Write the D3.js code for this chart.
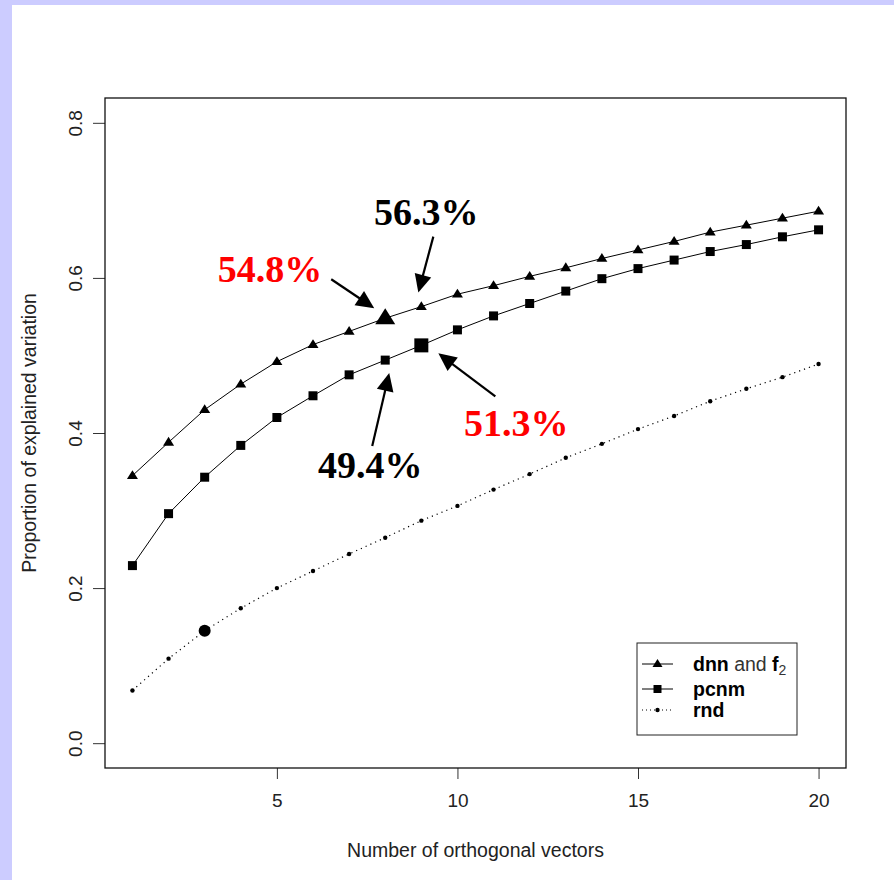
<!DOCTYPE html>
<html><head><meta charset="utf-8">
<script src="https://cdn.jsdelivr.net/npm/d3@7"></script>
<style>html,body{margin:0;padding:0;background:#ccccff;}svg{display:block;}</style>
</head><body>
<script>
// ---- data ----
const nVectors = [1,2,3,4,5,6,7,8,9,10,11,12,13,14,15,16,17,18,19,20];
const dnn  = [0.345,0.388,0.430,0.463,0.492,0.514,0.531,0.548,0.563,0.579,0.590,0.602,0.613,0.625,0.636,0.647,0.659,0.668,0.677,0.686];
const pcnm = [0.229,0.296,0.343,0.384,0.420,0.448,0.475,0.494,0.513,0.533,0.551,0.567,0.583,0.599,0.612,0.623,0.634,0.643,0.653,0.662];
const rnd  = [0.068,0.109,0.145,0.174,0.200,0.222,0.244,0.265,0.287,0.306,0.327,0.347,0.368,0.386,0.405,0.422,0.441,0.457,0.472,0.489];
const xTicks = [5,10,15,20];
const yTicks = [0.0,0.2,0.4,0.6,0.8];
const xTitle = "Number of orthogonal vectors";
const yTitle = "Proportion of explained variation";
// highlighted points: series, x value, label text
const highlights = [
  {series:"dnn",  x:8, label:"54.8%", color:"#ff0000"},
  {series:"dnn",  x:9, label:"56.3%", color:"#000000"},
  {series:"pcnm", x:8, label:"49.4%", color:"#000000"},
  {series:"pcnm", x:9, label:"51.3%", color:"#ff0000"}
];
const bigPoints = [{series:"dnn",x:8},{series:"pcnm",x:9},{series:"rnd",x:3}];

// ---- layout ----
const W = 894, H = 880;
const L = 105, R = 846, T = 98, B = 768;
const svg = d3.select("body").append("svg").attr("width",W).attr("height",H);
svg.append("rect").attr("x",0).attr("y",0).attr("width",W).attr("height",H).attr("fill","#ccccff");
svg.append("rect").attr("x",12).attr("y",5).attr("width",W-12).attr("height",H-5).attr("fill","#ffffff");

const x = d3.scaleLinear().domain([0.24,20.76]).range([L,R]);
const y = d3.scaleLinear().domain([-0.032,0.832]).range([B,T]);

const seriesMap = {dnn:dnn, pcnm:pcnm, rnd:rnd};
const pts = k => nVectors.map((v,i)=>({x:v, y:seriesMap[k][i]}));

// axes
const gx = svg.append("g").attr("transform",`translate(0,${B})`)
  .call(d3.axisBottom(x).tickValues(xTicks).tickSize(11).tickPadding(15).tickFormat(d3.format("d")));
gx.select(".domain").remove();
gx.selectAll("text").attr("font-family","Liberation Sans, Arial, sans-serif").attr("font-size",19).attr("fill","#222");
gx.selectAll("line").attr("stroke","#333");

const gy = svg.append("g").attr("transform",`translate(${L},0)`)
  .call(d3.axisLeft(y).tickValues(yTicks).tickSize(12).tickFormat(d3.format(".1f")));
gy.select(".domain").remove();
gy.selectAll("line").attr("stroke","#333");
gy.selectAll("text")
  .attr("font-family","Liberation Sans, Arial, sans-serif").attr("font-size",19).attr("fill","#222")
  .attr("x",null).attr("dy",null).attr("text-anchor","middle")
  .attr("transform","translate(-23,0) rotate(-90)");

// frame
svg.append("rect").attr("x",L).attr("y",T).attr("width",R-L).attr("height",B-T)
  .attr("fill","none").attr("stroke","#111").attr("stroke-width",1.3);

// titles
svg.append("text").attr("x",(L+R)/2).attr("y",857).attr("text-anchor","middle")
  .attr("font-family","Liberation Sans, Arial, sans-serif").attr("font-size",19.5).attr("fill","#222").text(xTitle);
svg.append("text").attr("transform",`translate(36,${(T+B)/2}) rotate(-90)`).attr("text-anchor","middle")
  .attr("font-family","Liberation Sans, Arial, sans-serif").attr("font-size",19.5).attr("fill","#222").text(yTitle);

// lines
const line = d3.line().x(d=>x(d.x)).y(d=>y(d.y));
svg.append("path").attr("d",line(pts("dnn"))).attr("fill","none").attr("stroke","#000").attr("stroke-width",1);
svg.append("path").attr("d",line(pts("pcnm"))).attr("fill","none").attr("stroke","#000").attr("stroke-width",1);
svg.append("path").attr("d",line(pts("rnd"))).attr("fill","none").attr("stroke","#000").attr("stroke-width",1.2).attr("stroke-dasharray","1.2,4");

// marker shapes
function tri(cx,cy,w){const h=w*0.8;return `M${cx},${cy-h*0.62}L${cx+w/2},${cy+h*0.38}L${cx-w/2},${cy+h*0.38}Z`;}
function sq(cx,cy,s){return `M${cx-s/2},${cy-s/2}h${s}v${s}h${-s}Z`;}
const isBig = (k,v)=>bigPoints.some(b=>b.series===k&&b.x===v);

svg.append("g").selectAll("path").data(pts("dnn")).join("path")
  .attr("d",d=>tri(x(d.x),y(d.y),isBig("dnn",d.x)?20:11)).attr("fill","#000");
svg.append("g").selectAll("path").data(pts("pcnm")).join("path")
  .attr("d",d=>sq(x(d.x),y(d.y),isBig("pcnm",d.x)?14:9)).attr("fill","#000");
svg.append("g").selectAll("circle").data(pts("rnd")).join("circle")
  .attr("cx",d=>x(d.x)).attr("cy",d=>y(d.y)).attr("r",d=>isBig("rnd",d.x)?6:2.2).attr("fill","#000");

// annotations: arrow tip/tail & label offsets in px relative to the point
const annoLayout = {
  "dnn-8":  {tip:[-11,-10], tail:[-54,-39], lab:[-63,-36], anchor:"end"},
  "dnn-9":  {tip:[-3,-14],  tail:[12,-70],  lab:[5,-82],   anchor:"middle"},
  "pcnm-8": {tip:[4,13],    tail:[-13,86],  lab:[-15,118], anchor:"middle"},
  "pcnm-9": {tip:[17,8],    tail:[74,51],   lab:[95,91],   anchor:"middle"}
};
const ag = svg.append("g");
highlights.forEach(h=>{
  const i = nVectors.indexOf(h.x);
  const px = x(h.x), py = y(seriesMap[h.series][i]);
  const lay = annoLayout[h.series+"-"+h.x];
  const tx = px+lay.tip[0], ty = py+lay.tip[1];
  const sx = px+lay.tail[0], sy = py+lay.tail[1];
  const dx = tx-sx, dy = ty-sy, len = Math.hypot(dx,dy), ux=dx/len, uy=dy/len;
  const hl = 18, hw = 8.5;
  const bx = tx-ux*hl, by = ty-uy*hl;
  ag.append("line").attr("x1",sx).attr("y1",sy).attr("x2",bx+ux*2).attr("y2",by+uy*2)
    .attr("stroke","#000").attr("stroke-width",2.2);
  ag.append("path").attr("d",`M${tx},${ty}L${bx-uy*hw},${by+ux*hw}L${bx+uy*hw},${by-ux*hw}Z`).attr("fill","#000");
  ag.append("text").attr("x",px+lay.lab[0]).attr("y",py+lay.lab[1]).attr("text-anchor",lay.anchor)
    .attr("font-family","Liberation Serif, Times New Roman, serif").attr("font-weight","bold")
    .attr("font-size",38).attr("fill",h.color).text(h.label);
});

// legend
const legX = 637, legY = 643, legW = 160, legH = 92;
const lg = svg.append("g");
lg.append("rect").attr("x",legX).attr("y",legY).attr("width",legW).attr("height",legH)
  .attr("fill","#fff").attr("stroke","#222").attr("stroke-width",1);
const legRows = [
  {key:"dnn", dy:21}, {key:"pcnm", dy:46}, {key:"rnd", dy:67}
];
const lf = "Liberation Sans, Arial, sans-serif";
legRows.forEach(r=>{
  const cy = legY + r.dy, x1 = legX+5, x2 = legX+36, cx=(x1+x2)/2;
  const ln = lg.append("line").attr("x1",x1).attr("x2",x2).attr("y1",cy).attr("y2",cy).attr("stroke","#000");
  if (r.key==="rnd") { ln.attr("stroke-dasharray","1,3"); lg.append("circle").attr("cx",cx).attr("cy",cy).attr("r",2.2).attr("fill","#000"); }
  else if (r.key==="dnn") lg.append("path").attr("d",tri(cx,cy,10)).attr("fill","#000");
  else lg.append("path").attr("d",sq(cx,cy,8)).attr("fill","#000");
  const t = lg.append("text").attr("x",legX+56).attr("y",cy+7).attr("font-family",lf).attr("font-size",19.5).attr("fill","#000");
  if (r.key==="dnn") {
    t.append("tspan").attr("font-weight","bold").text("dnn");
    t.append("tspan").attr("font-weight","normal").attr("fill","#333").text(" and ");
    t.append("tspan").attr("font-weight","bold").text("f");
    t.append("tspan").attr("font-size",14).attr("dy",4).attr("fill","#333").text("2");
  } else {
    t.append("tspan").attr("font-weight","bold").text(r.key);
  }
});
</script>
</body></html>
